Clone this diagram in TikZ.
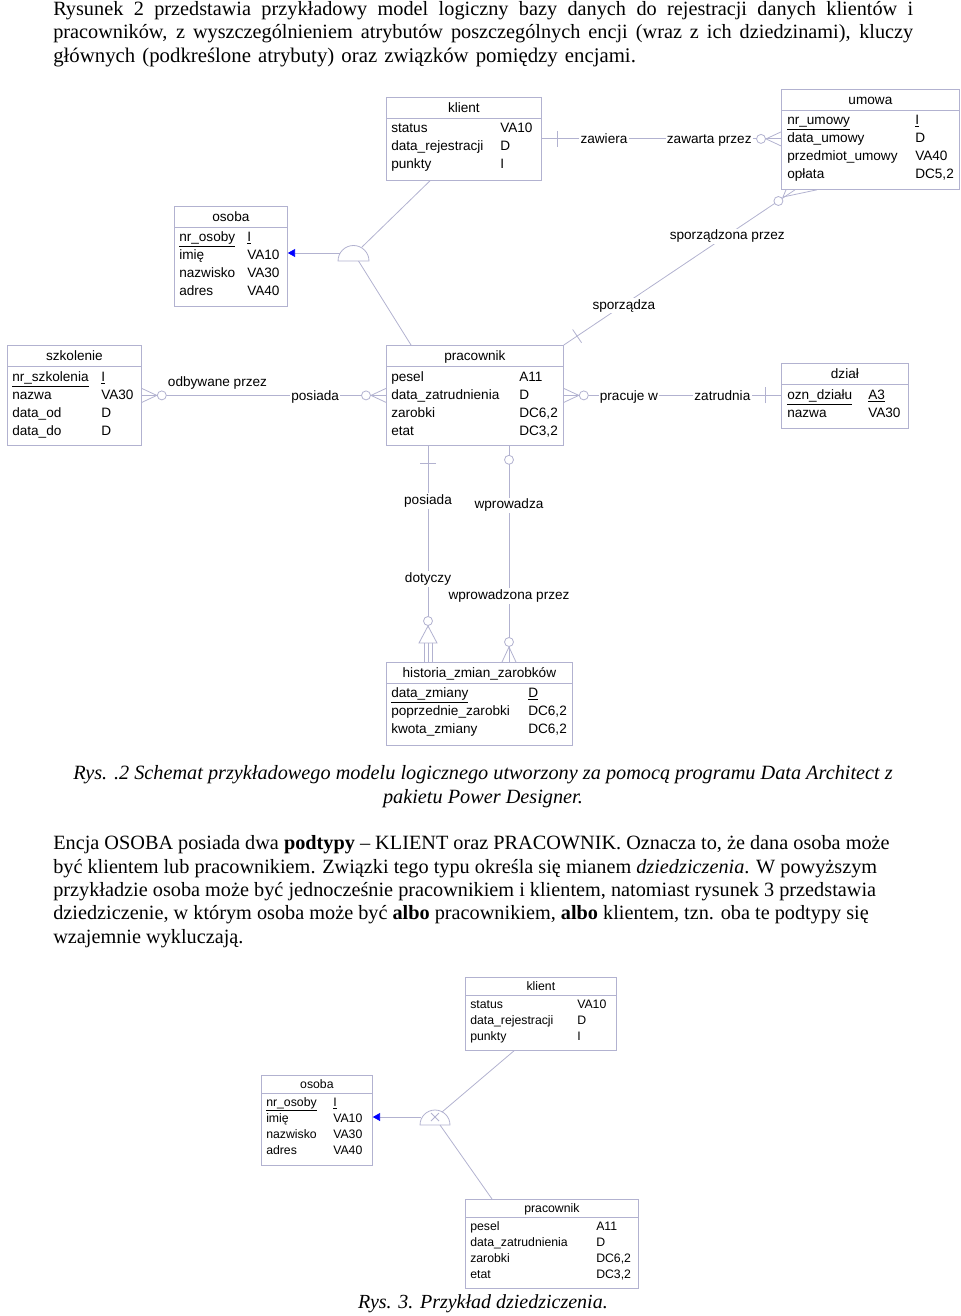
\documentclass[tikz,border=0pt]{standalone}
\usepackage{fontspec}
\setmainfont{Liberation Serif}
\newfontfamily\pdfont{Liberation Sans}
\usetikzlibrary{calc, arrows.meta, positioning}

\definecolor{pdline}{RGB}{178,178,208}

\tikzset{
  ent/.style = {draw = pdline, line width = 0.6pt, anchor = north west, inner sep = 0pt},
  entline/.style = {draw = pdline, line width = 0.6pt},
  enttitle/.style = {font = \pdfont\fontsize{10.2pt}{12pt}\selectfont, inner sep = 0pt, anchor = mid, yshift = -1.2pt},
  attr/.style = {font = \pdfont\fontsize{10.2pt}{12pt}\selectfont, inner sep = 0pt, anchor = mid west, yshift = -1.2pt},
  rel/.style = {draw = pdline, line width = 0.6pt},
  rlab/.style = {font = \pdfont\fontsize{10.2pt}{12pt}\selectfont, fill = white, inner sep = 1pt, anchor = mid, yshift = -1.2pt},
  rlabfree/.style = {font = \pdfont\fontsize{10.2pt}{12pt}\selectfont, inner sep = 1pt, anchor = mid},
  bodyline/.style = {font = \fontsize{15.2pt}{17.6pt}\selectfont, inner sep = 0pt, anchor = base west},
  captline/.style = {font = \itshape\fontsize{15.2pt}{17.6pt}\selectfont, inner sep = 0pt, anchor = base},
}

% entity box: name, x, y, width, height, title, header height
\newcommand{\entity}[7]{%
  \node [ent, minimum width = #4*0.75pt, minimum height = #5*0.75pt] (#1) at (#2, #3) {};
  \node [enttitle] (#1-title) at ($(#1.north) + (0, #7/2)$) {#6};
  \draw [entline] ($(#1.north west) + (0, #7)$) -- ($(#1.north east) + (0, #7)$);
}

% attribute rows: entity, name column, type column, first row, row step, list
\newcommand{\attrs}[6]{%
  \foreach \nm/\tp [count = \i] in {#6} {
    \node [attr] (#1-n\i) at (#2, #4 + #5*\i - #5) {\nm};
    \node [attr] (#1-t\i) at (#3, #4 + #5*\i - #5) {\tp};
  }
}

% zero or many end: point on the box, direction away from the box
\newcommand{\crowfoot}[2]{%
  \begin{scope}[shift = {(#1)}, rotate = #2]
    \draw [rel] (0, -7) -- (15, 0) -- (0, 7);
    \draw [rel, fill = white] (20, 0) circle [radius = 4.5];
  \end{scope}
}

% exactly one end: point on the box, direction, distance of the bar
\newcommand{\onebar}[3]{%
  \begin{scope}[shift = {(#1)}, rotate = #2]
    \draw [rel] (#3, -8) -- (#3, 8);
  \end{scope}
}

\begin{document}
\begin{tikzpicture}[x = 0.75pt, y = -0.75pt]
  \useasboundingbox (0, 0) rectangle (960, 1316);

  % text above the first figure
  \node [bodyline] (t1) at (53, 15.5) {\makebox[645pt][s]{Rysunek 2 przedstawia przykładowy model logiczny bazy danych do rejestracji danych klientów i}};
  \node [bodyline] (t2) at (53, 39) {\makebox[645pt][s]{pracowników, z wyszczególnieniem atrybutów poszczególnych encji (wraz z ich dziedzinami), kluczy}};
  \node [bodyline, font = \fontsize{15.6pt}{17.6pt}\selectfont, text width = 437pt, align = justify] (t3) at (53, 62.5) {\makebox[437pt][s]{głównych (podkreślone atrybuty) oraz związków pomiędzy encjami.}};

  % entities of the logical model
  \entity{klient}{386}{97}{155}{83}{klient}{21}
  \attrs{klient}{391}{500}{128}{18}{status/VA10, data\_rejestracji/D, punkty/I}

  \entity{umowa}{781}{89}{178}{100}{umowa}{21}
  \attrs{umowa}{787}{915}{120}{18}{\underline{nr\_umowy}/\underline{I}, data\_umowy/D, przedmiot\_umowy/VA40, opłata/{DC5,2}}

  \entity{osoba}{174}{206}{113}{100}{osoba}{21}
  \attrs{osoba}{179}{247}{237}{18}{\underline{nr\_osoby}/\underline{I}, imię/VA10, nazwisko/VA30, adres/VA40}

  \entity{szkolenie}{7}{345}{134}{100}{szkolenie}{21}
  \attrs{szkolenie}{12}{101}{377}{17.8}{\underline{nr\_szkolenia}/\underline{I}, nazwa/VA30, data\_od/D, data\_do/D}

  \entity{pracownik}{386}{345}{177}{100}{pracownik}{21}
  \attrs{pracownik}{391}{519}{377}{17.8}{pesel/A11, data\_zatrudnienia/D, zarobki/{DC6,2}, etat/{DC3,2}}

  \entity{dzial}{781}{363}{127}{65}{dział}{21}
  \attrs{dzial}{787}{868}{395}{17.8}{\underline{ozn\_działu}/\underline{A3}, nazwa/VA30}

  \entity{historia}{386}{662}{186}{83}{historia\_zmian\_zarobków}{21}
  \attrs{historia}{391}{528}{693}{18}{\underline{data\_zmiany}/\underline{D}, poprzednie\_zarobki/{DC6,2}, kwota\_zmiany/{DC6,2}}

  % relationships
  \draw [rel] (klient.east) -- node [rlab, pos = .26] {zawiera} node [rlab, pos = .70] {zawarta przez} (klient.east -| umowa.west);
  \onebar{klient.east}{0}{16}
  \crowfoot{klient.east -| umowa.west}{180}

  \draw [rel] (szkolenie.east) -- node [rlabfree, pos = .31, yshift = 8.8pt] {odbywane przez} node [rlab, pos = .71] {posiada} (szkolenie.east -| pracownik.west);
  \crowfoot{szkolenie.east}{0}
  \crowfoot{pracownik.west}{180}

  \draw [rel] (pracownik.east) -- node [rlab, pos = .30] {pracuje w} node [rlab, pos = .73] {zatrudnia} (pracownik.east -| dzial.west);
  \crowfoot{pracownik.east}{0}
  \onebar{pracownik.east -| dzial.west}{180}{16}

  \coordinate (um-s) at ($(umowa.south west) + (14, 0)$);
  \draw [rel] (pracownik.north east) -- node [rlab, pos = .26] {sporządza} node [rlab, pos = .707] {sporządzona przez} (um-s);
  \onebar{pracownik.north east}{33.9}{16}
  \draw [rel] ($(umowa.south west) + (5, 0)$) -- (783, 197) -- ($(umowa.south west) + (36, 0)$);
  \draw [rel, fill = white] ($(um-s) + (-16.6, 11.2)$) circle [radius = 4.5];

  \coordinate (pr-s1) at ($(pracownik.south west) + (42, 0)$);
  \coordinate (hi-n1) at ($(historia.north west) + (42, 0)$);
  \draw [rel] (pr-s1) -- node [rlab, pos = .25] {posiada} node [rlab, pos = .61] {dotyczy} (hi-n1);
  \onebar{pr-s1}{-90}{18}
  \draw [rel, fill = white] ($(hi-n1) + (-9, -19)$) -- ($(hi-n1) + (0, -36)$) -- ($(hi-n1) + (9, -19)$) -- cycle;
  \draw [rel, fill = white] ($(hi-n1) + (0, -41)$) circle [radius = 4.5];
  \draw [rel] ($(hi-n1) + (0, -19)$) -- (hi-n1)
    ($(hi-n1) + (-4, -19)$) -- ($(hi-n1) + (-4, 0)$)
    ($(hi-n1) + (4, -19)$) -- ($(hi-n1) + (4, 0)$);

  \coordinate (pr-s2) at ($(pracownik.south west) + (123, 0)$);
  \coordinate (hi-n2) at ($(historia.north west) + (123, 0)$);
  \draw [rel] (pr-s2) -- node [rlab, pos = .27] {wprowadza} node [rlab, pos = .69] {wprowadzona przez} (hi-n2);
  \draw [rel, fill = white] ($(pr-s2) + (0, 14)$) circle [radius = 4.5];
  \crowfoot{hi-n2}{90}

  % inheritance
  \coordinate (inh) at (353.5, 261);
  \coordinate (inh-w) at (340, 253);
  \draw [rel, fill = white] ($(inh) + (-15.5, 0)$) arc [start angle = 180, end angle = 360, radius = 15.5] -- cycle;
  \draw [rel, -{Triangle[length = 5.5pt, width = 6pt, color = blue]}] (inh-w) -- (osoba.east |- inh-w);
  \draw [rel] ($(inh) + (8.5, -14)$) -- ($(klient.south west) + (44, 0)$);
  \draw [rel] ($(inh) + (5, 0)$) -- ($(pracownik.north west) + (25, 0)$);

  % caption and text between the figures
  \node [captline] (c1) at (483, 779.5) {Rys. .2 Schemat przykładowego modelu logicznego utworzony za pomocą programu Data Architect z};
  \node [captline] (c2) at (483, 803.5) {pakietu Power Designer.};

  \node [bodyline] (p1) at (53, 849.5) {Encja OSOBA posiada dwa \textbf{podtypy} – KLIENT oraz PRACOWNIK. Oznacza to, że dana osoba może};
  \node [bodyline] (p2) at (53, 873) {być klientem lub pracownikiem. Związki tego typu określa się mianem \textit{dziedziczenia}. W powyższym};
  \node [bodyline] (p3) at (53, 896.5) {przykładzie osoba może być jednocześnie pracownikiem i klientem, natomiast rysunek 3 przedstawia};
  \node [bodyline] (p4) at (53, 919.5) {dziedziczenie, w którym osoba może być \textbf{albo} pracownikiem, \textbf{albo} klientem, tzn. oba te podtypy się};
  \node [bodyline] (p5) at (53, 943) {wzajemnie wykluczają.};

  % second figure: exclusive inheritance
  \begin{scope}[enttitle/.append style = {font = \pdfont\fontsize{9.2pt}{11pt}\selectfont, yshift = 0.5pt},
                attr/.append style = {font = \pdfont\fontsize{9.2pt}{11pt}\selectfont, yshift = 0.5pt}]
    \entity{klient3}{465}{977}{151}{73}{klient}{18}
    \attrs{klient3}{470}{577}{1004}{16}{status/VA10, data\_rejestracji/D, punkty/I}

    \entity{osoba3}{261}{1075}{111}{90}{osoba}{18}
    \attrs{osoba3}{266}{333}{1102}{16}{\underline{nr\_osoby}/\underline{I}, imię/VA10, nazwisko/VA30, adres/VA40}

    \entity{pracownik3}{465}{1199}{173}{89}{pracownik}{18}
    \attrs{pracownik3}{470}{596}{1226}{16}{pesel/A11, data\_zatrudnienia/D, zarobki/{DC6,2}, etat/{DC3,2}}
  \end{scope}

  \coordinate (inh3) at (435, 1125);
  \coordinate (inh3-w) at (421, 1117);
  \draw [rel, fill = white] ($(inh3) + (-15, 0)$) arc [start angle = 180, end angle = 360, radius = 15] -- cycle;
  \draw [rel] ($(inh3) + (-4, -12)$) -- ($(inh3) + (4, -4)$) ($(inh3) + (-4, -4)$) -- ($(inh3) + (4, -12)$);
  \draw [rel, -{Triangle[length = 5.5pt, width = 6pt, color = blue]}] (inh3-w) -- (osoba3.east |- inh3-w);
  \draw [rel] ($(inh3) + (7, -13)$) -- ($(klient3.south west) + (49, 0)$);
  \draw [rel] ($(inh3) + (5, 0)$) -- ($(pracownik3.north west) + (27, 0)$);

  \node [captline, font = \itshape\fontsize{15pt}{17.6pt}\selectfont] (c3) at (483, 1308) {Rys. 3. Przykład dziedziczenia.};
\end{tikzpicture}
\end{document}
